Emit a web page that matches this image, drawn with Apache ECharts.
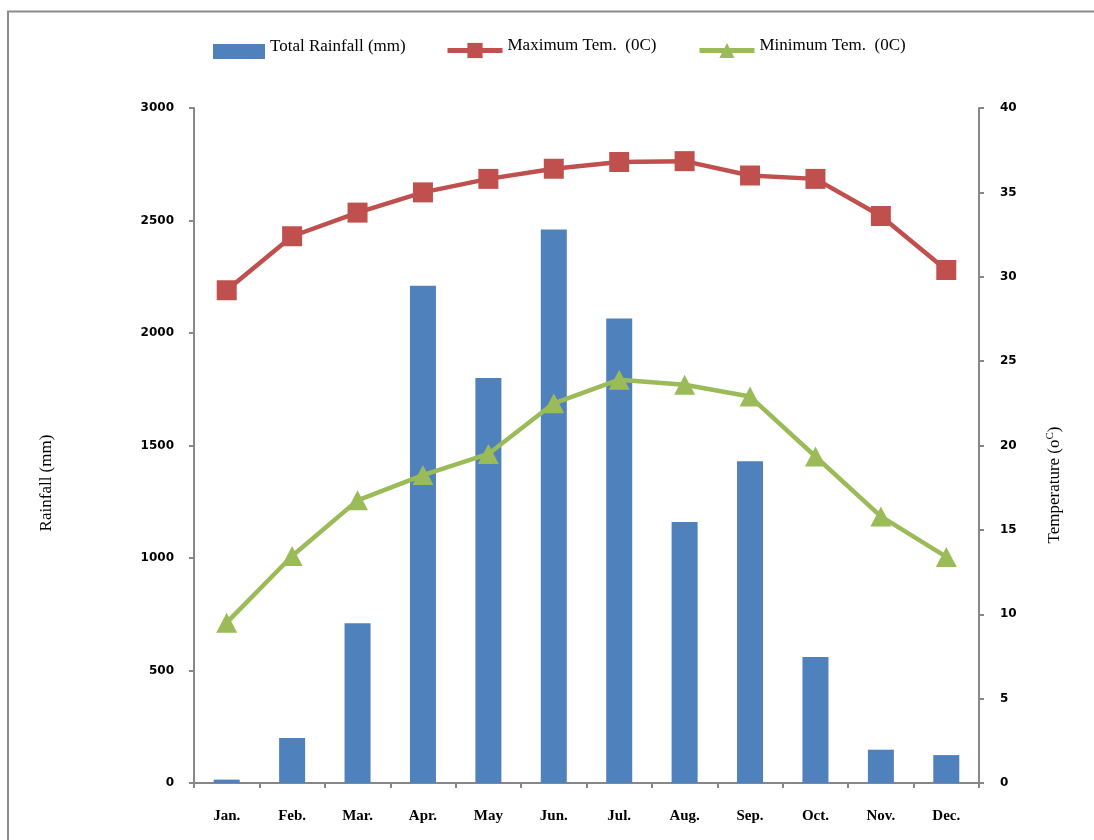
<!DOCTYPE html>
<html>
<head>
<meta charset="utf-8">
<script src="https://cdn.jsdelivr.net/npm/echarts@6/dist/echarts.min.js"></script>
<style>
html,body{margin:0;padding:0;background:#fff;}
#c{width:1094px;height:840px;}
</style>
</head>
<body>
<div id="c"></div>
<script>
const months = ['Jan.','Feb.','Mar.','Apr.','May','Jun.','Jul.','Aug.','Sep.','Oct.','Nov.','Dec.'];
const rainfall = [15, 200, 710, 2210, 1800, 2460, 2065, 1160, 1430, 560, 148, 124];
const maxTemp = [29.2, 32.4, 33.8, 35.0, 35.8, 36.4, 36.8, 36.85, 36.0, 35.8, 33.6, 30.4];
const minTemp = [9.5, 13.45, 16.75, 18.25, 19.5, 22.5, 23.9, 23.6, 22.9, 19.35, 15.8, 13.4];
const rainTicks = [0, 3000, 500];
const tempTicks = [0, 40, 5];
const names = ['Total Rainfall (mm)', 'Maximum Tem.  (0C)', 'Minimum Tem.  (0C)'];

const axisGray = '#878787';
const legendText = {fontFamily:'Liberation Serif', fontSize:17, color:'#000',
  rich:{t:{fontFamily:'Liberation Serif', fontSize:17, color:'#000', padding:[0,0,10,0]}}};

const chart = echarts.init(document.getElementById('c'), null, {renderer:'canvas'});
chart.setOption({
  animation:false,
  backgroundColor:'#fff',
  grid:{left:194, right:115, top:108, bottom:57, containLabel:false},
  legend:[
    {data:[{name:names[0], icon:'rect'}], left:213, top:38, padding:0, itemWidth:52, itemHeight:15, textStyle:legendText, selectedMode:false, formatter:'{t|{name}}'},
    {data:[names[1]], left:445, top:37, padding:0, itemWidth:55, itemHeight:19, textStyle:legendText, selectedMode:false,
     lineStyle:{width:5}, formatter:'{t|{name}}'},
    {data:[names[2]], left:697, top:37, padding:0, itemWidth:55, itemHeight:19, textStyle:legendText, selectedMode:false,
     lineStyle:{width:5}, formatter:'{t|{name}}'}
  ],
  xAxis:{
    type:'category', data:months, boundaryGap:true,
    axisLine:{lineStyle:{color:axisGray, width:2}},
    axisTick:{show:true, length:5, alignWithLabel:false, lineStyle:{color:axisGray, width:2}},
    axisLabel:{margin:26, color:'#000', fontFamily:'Liberation Serif', fontWeight:'bold', fontSize:15}
  },
  yAxis:[
    {type:'value', min:rainTicks[0], max:rainTicks[1], interval:rainTicks[2],
     axisLine:{show:true, lineStyle:{color:axisGray, width:2}},
     axisTick:{show:true, length:5, lineStyle:{color:axisGray, width:2}},
     splitLine:{show:false},
     axisLabel:{margin:20, color:'#000', fontFamily:'DejaVu Sans', fontWeight:'bold', fontSize:12,
       formatter:function(v){return String(v);}}},
    {type:'value', min:tempTicks[0], max:tempTicks[1], interval:tempTicks[2], position:'right',
     axisLine:{show:true, lineStyle:{color:axisGray, width:2}},
     axisTick:{show:true, length:5, lineStyle:{color:axisGray, width:2}},
     splitLine:{show:false},
     axisLabel:{margin:21, color:'#000', fontFamily:'DejaVu Sans', fontWeight:'bold', fontSize:12,
       formatter:function(v){return String(v);}}}
  ],
  series:[
    {name:names[0], type:'bar', data:rainfall, yAxisIndex:0, barWidth:26,
     itemStyle:{color:'#4F81BD'}},
    {name:names[1], type:'line', data:maxTemp, yAxisIndex:1,
     symbol:'rect', symbolSize:20,
     lineStyle:{color:'#C0504D', width:4.5}, itemStyle:{color:'#C0504D'}},
    {name:names[2], type:'line', data:minTemp, yAxisIndex:1,
     symbol:'triangle', symbolSize:[21,20],
     lineStyle:{color:'#9BBB59', width:4.5}, itemStyle:{color:'#9BBB59'}}
  ],
  graphic:[
    {type:'rect', shape:{x:8, y:11.5, width:1200, height:1000}, style:{fill:'none', stroke:'#8c8c8c', lineWidth:2}, silent:true, z:-1},
    {type:'text', x:47, y:483, rotation:Math.PI/2,
     style:{text:'Rainfall (mm)', fontFamily:'Liberation Serif', fontSize:17, fill:'#000', align:'center', verticalAlign:'middle'}},
    {type:'text', x:1055, y:485, rotation:Math.PI/2,
     style:{text:'{a|Temperature (o}{s|C}{a|)}', align:'center', verticalAlign:'middle',
       rich:{a:{fontFamily:'Liberation Serif', fontSize:17, fill:'#000'},
             s:{fontFamily:'Liberation Serif', fontSize:11, fill:'#000', padding:[0,0,10,0]}}}}
  ]
});
</script>
</body>
</html>
